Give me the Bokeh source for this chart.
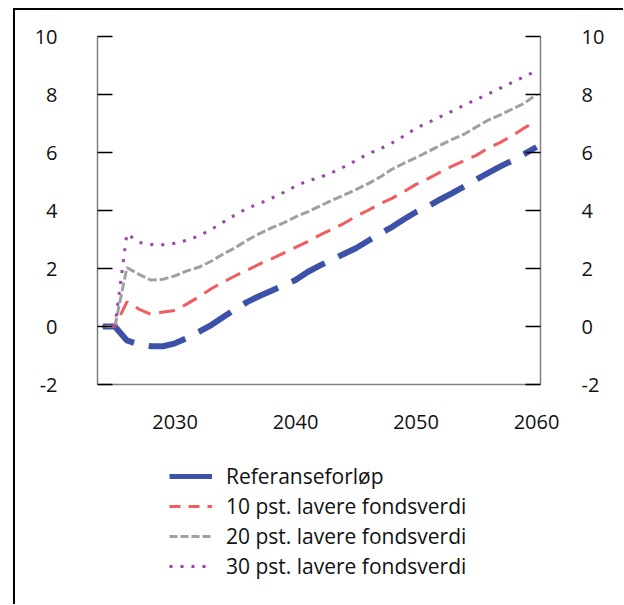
from bokeh.plotting import figure
from bokeh.layouts import column
from bokeh.models import ColumnDataSource, LinearAxis, FixedTicker, Legend, LegendItem, Range1d
from bokeh.embed import file_html
from bokeh.resources import INLINE

years = list(range(2024, 2061))
referanse = [0, 0, -0.48, -0.62, -0.68, -0.68, -0.58, -0.40, -0.18, 0.05, 0.33, 0.6, 0.85, 1.05, 1.23,
             1.42, 1.6, 1.88, 2.1, 2.3, 2.5, 2.7, 2.95, 3.2, 3.43, 3.7, 3.95, 4.15, 4.38, 4.6, 4.83,
             5.07, 5.3, 5.52, 5.72, 5.95, 6.19]
lavere10 = [0, 0, 0.85, 0.6, 0.42, 0.5, 0.55, 0.78, 1.03, 1.3, 1.53, 1.75, 1.95, 2.15, 2.33, 2.53, 2.73,
            2.93, 3.15, 3.35, 3.55, 3.8, 4.0, 4.23, 4.42, 4.65, 4.9, 5.1, 5.32, 5.53, 5.72, 5.9, 6.15,
            6.35, 6.58, 6.85, 7.1]
lavere20 = [0, 0, 2.03, 1.8, 1.6, 1.63, 1.75, 1.92, 2.05, 2.25, 2.5, 2.72, 2.98, 3.2, 3.4, 3.57, 3.78,
            3.95, 4.15, 4.35, 4.53, 4.72, 4.92, 5.15, 5.42, 5.63, 5.82, 6.03, 6.25, 6.45, 6.63, 6.88,
            7.12, 7.3, 7.5, 7.7, 8.0]
lavere30 = [0, 0, 3.2, 2.9, 2.83, 2.82, 2.87, 2.98, 3.13, 3.35, 3.6, 3.85, 4.08, 4.24, 4.42, 4.62, 4.84,
            5.02, 5.14, 5.3, 5.5, 5.72, 5.95, 6.12, 6.33, 6.57, 6.84, 7.03, 7.23, 7.43, 7.63, 7.83,
            8.02, 8.22, 8.42, 8.62, 8.82]

series_names = ["Referanseforløp", "10 pst. lavere fondsverdi", "20 pst. lavere fondsverdi",
                "30 pst. lavere fondsverdi"]
y_ticks = [-2, 0, 2, 4, 6, 8, 10]
y_tick_labels = ["-2", "0", "2", "4", "6", "8", "10"]
x_ticks = [2030, 2040, 2050, 2060]

FONT = "Open Sans"
FS = "20px"
LFS = "21px"
TXT = "#111111"

colors = ["#3D51A8", "#F25C5E", "#A0A0A0", "#9A44A8"]
widths = [6, 3, 3, 3]
dashes = ["38 15", "16 9", "9 3", "3 8"]
leg_widths = [5, 3, 3, 3]
leg_dashes = ["solid", "11 8", "8 3", "3 8"]
cols = ["ref", "l10", "l20", "l30"]

src = ColumnDataSource(dict(year=years, ref=referanse, l10=lavere10, l20=lavere20, l30=lavere30))

W = 608
p = figure(width=W, height=440, output_backend="svg", toolbar_location=None,
           x_range=Range1d(2023.56, 2060.33), y_range=Range1d(-2, 10),
           min_border_left=82, min_border_right=83, min_border_top=26, min_border_bottom=66,
           x_axis_location=None, y_axis_location=None)
p.outline_line_color = None
p.xgrid.visible = False
p.ygrid.visible = False
p.background_fill_color = "white"
p.border_fill_color = "white"

for c, col, w, d in zip(cols, colors, widths, dashes):
    p.line("year", c, source=src, line_color=col, line_width=w, line_dash=d)

def style_y(ax, standoff):
    ax.ticker = FixedTicker(ticks=y_ticks)
    ax.major_label_overrides = {t: s for t, s in zip(y_ticks, y_tick_labels)}
    ax.major_tick_in = 15
    ax.major_tick_out = 0
    ax.minor_tick_line_color = None
    ax.axis_line_color = "#808080"
    ax.axis_line_width = 1.5
    ax.major_tick_line_color = "#000000"
    ax.major_tick_line_width = 1.5
    ax.major_label_standoff = standoff
    ax.major_label_text_font = FONT
    ax.major_label_text_font_size = FS
    ax.major_label_text_color = TXT

yl = LinearAxis()
style_y(yl, 40)
p.add_layout(yl, "left")
yr = LinearAxis()
style_y(yr, 41)
p.add_layout(yr, "right")

xa = LinearAxis(ticker=FixedTicker(ticks=x_ticks))
xa.major_tick_in = 0
xa.major_tick_out = 0
xa.minor_tick_line_color = None
xa.major_tick_line_color = None
xa.axis_line_color = "#808080"
xa.axis_line_width = 1.5
xa.major_label_standoff = 30
xa.major_label_text_font = FONT
xa.major_label_text_font_size = FS
xa.major_label_text_color = TXT
p.add_layout(xa, "below")

# legend panel (its frame is aligned with the main plot's frame by the column layout)
p2 = figure(width=W, height=154, output_backend="svg", toolbar_location=None,
            x_range=Range1d(0, 1), y_range=Range1d(0, 1),
            min_border_left=0, min_border_right=0, min_border_top=0, min_border_bottom=0,
            x_axis_location=None, y_axis_location=None)
p2.outline_line_color = None
p2.xgrid.visible = False
p2.ygrid.visible = False
p2.background_fill_color = "white"
p2.border_fill_color = "white"
leg_src = ColumnDataSource(dict(x=[5, 6], y=[5, 6]))
rs = [p2.line("x", "y", source=leg_src, line_color=col, line_width=w, line_dash=d)
      for col, w, d in zip(colors, leg_widths, leg_dashes)]

legend = Legend(items=[LegendItem(label=n, renderers=[r]) for n, r in zip(series_names, rs)],
                location=(72, 23.5), orientation="vertical")
legend.glyph_width = 43
legend.glyph_height = 30
legend.label_height = 30
legend.spacing = 0
legend.padding = 0
legend.margin = 0
legend.label_standoff = 14
legend.border_line_color = None
legend.background_fill_alpha = 0
legend.label_text_font = FONT
legend.label_text_font_size = LFS
legend.label_text_color = TXT
p2.add_layout(legend, "center")

layout = column(p, p2, spacing=0)
layout.styles = {"margin-left": "13px", "margin-top": "8px",
                 "border-left": "2.5px solid #000", "border-top": "2.5px solid #000"}

open("out.html", "w").write(file_html(layout, INLINE))
